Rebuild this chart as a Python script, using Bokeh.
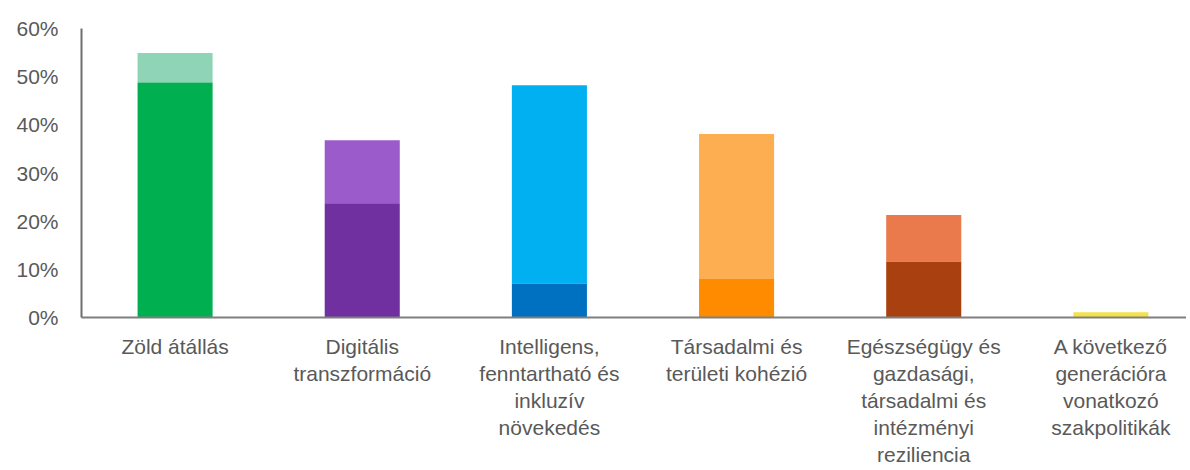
from bokeh.plotting import figure
from bokeh.models import Range1d, FixedTicker, NumeralTickFormatter, ColumnDataSource
from bokeh.embed import file_html
from bokeh.resources import INLINE

categories = [
    "Zöld átállás",
    "Digitális\ntranszformáció",
    "Intelligens,\nfenntartható és\ninkluzív\nnövekedés",
    "Társadalmi és\nterületi kohézió",
    "Egészségügy és\ngazdasági,\ntársadalmi és\nintézményi\nreziliencia",
    "A következő\ngenerációra\nvonatkozó\nszakpolitikák",
]
base_share = [0.488, 0.237, 0.070, 0.080, 0.116, 0.011]
total_share = [0.549, 0.368, 0.482, 0.381, 0.213, 0.011]
y_ticks = [0.0, 0.1, 0.2, 0.3, 0.4, 0.5, 0.6]

dark_colors = ["#00B050", "#7030A0", "#0070C0", "#FF8C00", "#A8400F", "#F5E24B"]
light_colors = ["#8FD4B7", "#9B5BCB", "#00B0F0", "#FDAE50", "#EA794B", "#F5E24B"]

xs = [i + 0.5 for i in range(len(categories))]
src = ColumnDataSource(dict(
    x=xs, base=base_share, total=total_share,
    zero=[0.0] * len(xs), dark=dark_colors, light=light_colors,
))

p = figure(width=1186, height=469, output_backend="svg", toolbar_location=None,
           x_range=Range1d(0, 5.904), y_range=Range1d(0, 0.6))
p.min_border_left = 81
p.min_border_right = 0
p.min_border_top = 28
p.min_border_bottom = 151
p.outline_line_color = None
p.grid.visible = False
p.background_fill_color = "white"
p.border_fill_color = "white"

p.vbar(x="x", width=0.401, bottom="base", top="total", fill_color="light",
       line_color=None, source=src)
p.vbar(x="x", width=0.401, bottom="zero", top="base", fill_color="dark",
       line_color=None, source=src)

text_color = "#595959"
font = "Liberation Sans"

xa = p.xaxis[0]
xa.ticker = FixedTicker(ticks=xs)
xa.major_label_overrides = {x: c for x, c in zip(xs, categories)}
xa.major_tick_line_color = None
xa.minor_tick_line_color = None
xa.major_tick_out = 0
xa.major_tick_in = 0
xa.axis_line_color = "#7F7F7F"
xa.axis_line_width = 2
xa.major_label_text_font = font
xa.major_label_text_font_size = "21px"
xa.major_label_text_line_height = 1.18
xa.major_label_text_color = text_color
xa.major_label_standoff = 17

ya = p.yaxis[0]
ya.ticker = FixedTicker(ticks=y_ticks)
ya.formatter = NumeralTickFormatter(format="0%")
ya.major_tick_line_color = None
ya.minor_tick_line_color = None
ya.major_tick_out = 0
ya.major_tick_in = 0
ya.axis_line_color = "#6E6E6E"
ya.axis_line_width = 2
ya.major_label_text_font = font
ya.major_label_text_font_size = "21px"
ya.major_label_text_color = text_color
ya.major_label_standoff = 23

open("out.html", "w").write(file_html(p, INLINE))
